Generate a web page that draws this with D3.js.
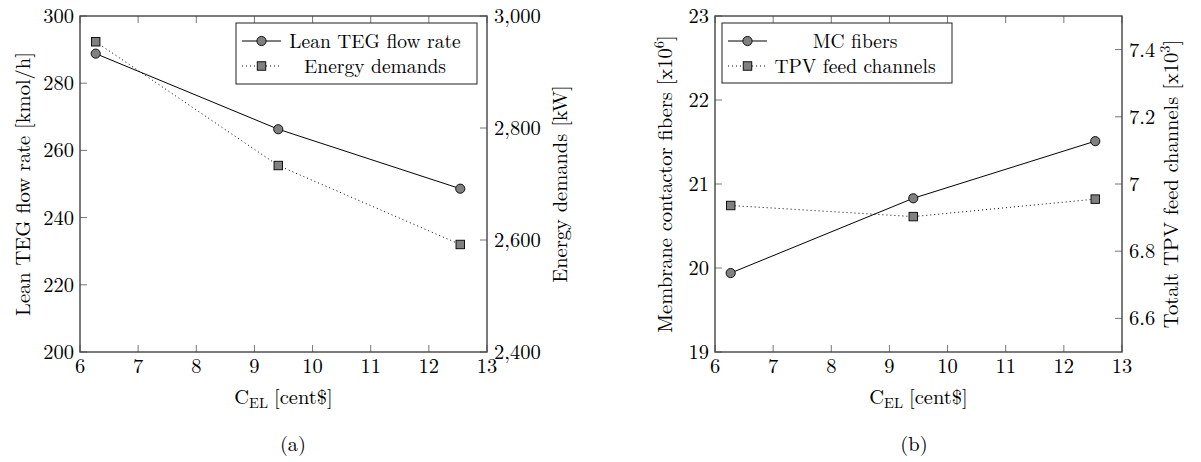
<!DOCTYPE html>
<html>
<head>
<meta charset="utf-8">
<script src="https://cdn.jsdelivr.net/npm/d3@7"></script>
<style>
  html, body { margin: 0; padding: 0; background: #fff; }
  svg { display: block; }
</style>
</head>
<body>
<svg id="chart" width="1201" height="462"></svg>
<script>
// ---------------- DATA ----------------
const xValues = [6.27, 9.41, 12.54];          // C_EL [cent$]
const leanTEG = [288.8, 266.3, 248.6];        // kmol/h
const energyDemands = [2954, 2733, 2592];     // kW
const mcFibers = [19.94, 20.83, 21.51];       // x10^6
const tpvChannels = [6.936, 6.903, 6.955];    // x10^3

const xTicks = [6, 7, 8, 9, 10, 11, 12, 13];
const leanTicks = [200, 220, 240, 260, 280, 300];
const energyTicks = [2400, 2600, 2800, 3000];
const mcTicks = [19, 20, 21, 22, 23];
const tpvTicks = [6.6, 6.8, 7, 7.2, 7.4];

// ---------------- DRAW ----------------
const svg = d3.select("#chart");
const FONT = "Latin Modern Roman";
const FS = 20.5;

function txt(g) {
  return g.append("text").attr("font-family", FONT).attr("fill", "#000").attr("font-size", FS);
}

function yLabel(g, x, yc, parts) {
  const t = txt(g)
    .attr("transform", `translate(${x},${yc}) rotate(-90)`)
    .attr("text-anchor", "middle");
  parts.forEach(p => {
    const ts = t.append("tspan").text(p.t);
    if (p.sup) ts.attr("dy", -8).attr("font-size", 14.5);
    if (p.back) ts.attr("dy", 8);
  });
}

function panel(cfg) {
  const g = svg.append("g");
  const x = d3.scaleLinear().domain([6, 13]).range([cfg.x0, cfg.x1]);
  const yL = d3.scaleLinear().domain(cfg.yLdom).range([cfg.y1, cfg.y0]);
  const yR = d3.scaleLinear().domain(cfg.yRdom).range([cfg.y1, cfg.y0]);
  const TL = 7;

  // ticks (inside)
  const tickG = g.append("g").attr("stroke", "#777").attr("stroke-width", 1);
  xTicks.forEach(v => {
    tickG.append("line").attr("x1", x(v)).attr("x2", x(v)).attr("y1", cfg.y1).attr("y2", cfg.y1 - TL);
    tickG.append("line").attr("x1", x(v)).attr("x2", x(v)).attr("y1", cfg.y0).attr("y2", cfg.y0 + TL);
  });
  cfg.yLticks.forEach(v => {
    tickG.append("line").attr("x1", cfg.x0).attr("x2", cfg.x0 + TL).attr("y1", yL(v)).attr("y2", yL(v));
  });
  cfg.yRticks.forEach(v => {
    tickG.append("line").attr("x1", cfg.x1).attr("x2", cfg.x1 - TL).attr("y1", yR(v)).attr("y2", yR(v));
  });

  // frame
  g.append("rect").attr("x", cfg.x0).attr("y", cfg.y0)
    .attr("width", cfg.x1 - cfg.x0).attr("height", cfg.y1 - cfg.y0)
    .attr("fill", "none").attr("stroke", "#444").attr("stroke-width", 1.4);

  // tick labels
  xTicks.forEach(v => {
    txt(g).attr("x", x(v)).attr("y", cfg.y1 + 21).attr("text-anchor", "middle").text(v);
  });
  cfg.yLticks.forEach(v => {
    txt(g).attr("x", cfg.x0 - 6).attr("y", yL(v)).attr("dy", "0.34em")
      .attr("text-anchor", "end").text(cfg.yLfmt(v));
  });
  cfg.yRticks.forEach(v => {
    txt(g).attr("x", cfg.x1 + 7).attr("y", yR(v)).attr("dy", "0.34em")
      .attr("text-anchor", "start").text(cfg.yRfmt(v));
  });

  // x label C_EL [cent$]
  const xl = txt(g).attr("x", (cfg.x0 + cfg.x1) / 2).attr("y", cfg.y1 + 52).attr("text-anchor", "middle");
  xl.append("tspan").text("C");
  xl.append("tspan").attr("dy", 4).attr("font-size", 14.5).text("EL");
  xl.append("tspan").attr("dy", -4).attr("dx", 6).text("[cent$]");

  yLabel(g, cfg.yLlabX, (cfg.y0 + cfg.y1) / 2, cfg.yLlab);
  yLabel(g, cfg.yRlabX, (cfg.y0 + cfg.y1) / 2, cfg.yRlab);

  // series
  const lineL = d3.line().x((d, i) => x(xValues[i])).y(d => yL(d));
  const lineR = d3.line().x((d, i) => x(xValues[i])).y(d => yR(d));
  g.append("path").datum(cfg.sR).attr("d", lineR).attr("fill", "none")
    .attr("stroke", "#000").attr("stroke-width", 1).attr("stroke-dasharray", "1,3");
  g.append("path").datum(cfg.sL).attr("d", lineL).attr("fill", "none")
    .attr("stroke", "#000").attr("stroke-width", 1);
  const S = 8.5;
  g.selectAll(null).data(cfg.sR).enter().append("rect")
    .attr("x", (d, i) => x(xValues[i]) - S / 2).attr("y", d => yR(d) - S / 2)
    .attr("width", S).attr("height", S)
    .attr("fill", "#808080").attr("stroke", "#000").attr("stroke-width", 0.9);
  g.selectAll(null).data(cfg.sL).enter().append("circle")
    .attr("cx", (d, i) => x(xValues[i])).attr("cy", d => yL(d)).attr("r", 4.6)
    .attr("fill", "#808080").attr("stroke", "#000").attr("stroke-width", 0.9);

  // legend
  const L = cfg.legend;
  g.append("rect").attr("x", L.x).attr("y", L.y).attr("width", L.w).attr("height", L.h)
    .attr("fill", "#fff").attr("stroke", "#333").attr("stroke-width", 1.1);
  const r1 = L.y + 18, r2 = L.y + 43;
  const mx0 = L.x + 6, mx1 = L.x + 45, mc = (mx0 + mx1) / 2;
  g.append("line").attr("x1", mx0).attr("x2", mx1).attr("y1", r1).attr("y2", r1)
    .attr("stroke", "#000").attr("stroke-width", 1);
  g.append("circle").attr("cx", mc).attr("cy", r1).attr("r", 4.6)
    .attr("fill", "#808080").attr("stroke", "#000").attr("stroke-width", 0.9);
  g.append("line").attr("x1", mx0).attr("x2", mx1).attr("y1", r2).attr("y2", r2)
    .attr("stroke", "#000").attr("stroke-width", 1).attr("stroke-dasharray", "1,3");
  g.append("rect").attr("x", mc - S / 2).attr("y", r2 - S / 2).attr("width", S).attr("height", S)
    .attr("fill", "#808080").attr("stroke", "#000").attr("stroke-width", 0.9);
  [[cfg.nameL, r1], [cfg.nameR, r2]].forEach(([nm, ry]) => {
    txt(g).attr("x", L.tc).attr("y", ry).attr("dy", "0.34em").attr("font-size", 19.5)
      .attr("text-anchor", "middle").text(nm);
  });

  // caption
  txt(g).attr("x", cfg.capX).attr("y", 451).attr("text-anchor", "middle").text(cfg.cap);
}

panel({
  x0: 80, x1: 487, y0: 16, y1: 352,
  yLdom: [200, 300], yRdom: [2400, 3000],
  yLticks: leanTicks, yRticks: energyTicks,
  yLfmt: d3.format("d"), yRfmt: d3.format(","),
  sL: leanTEG, sR: energyDemands,
  nameL: "Lean TEG flow rate", nameR: "Energy demands",
  yLlabX: 30, yLlab: [{t: "Lean TEG flow rate [kmol/h]"}],
  yRlabX: 567, yRlab: [{t: "Energy demands [kW]"}],
  legend: {x: 236, y: 23, w: 241, h: 61, tc: 375},
  capX: 293, cap: "(a)"
});

panel({
  x0: 715, x1: 1122, y0: 16, y1: 352,
  yLdom: [19, 23], yRdom: [6.5, 7.5],
  yLticks: mcTicks, yRticks: tpvTicks,
  yLfmt: d3.format("d"), yRfmt: d => String(+d.toFixed(1)),
  sL: mcFibers, sR: tpvChannels,
  nameL: "MC fibers", nameR: "TPV feed channels",
  yLlabX: 672, yLlab: [{t: "Membrane contactor fibers [x10"}, {t: "6", sup: true}, {t: "]", back: true}],
  yRlabX: 1178, yRlab: [{t: "Totalt TPV feed channels [x10"}, {t: "3", sup: true}, {t: "]", back: true}],
  legend: {x: 722, y: 23, w: 230, h: 60, tc: 855},
  capX: 914, cap: "(b)"
});
</script>
</body>
</html>
